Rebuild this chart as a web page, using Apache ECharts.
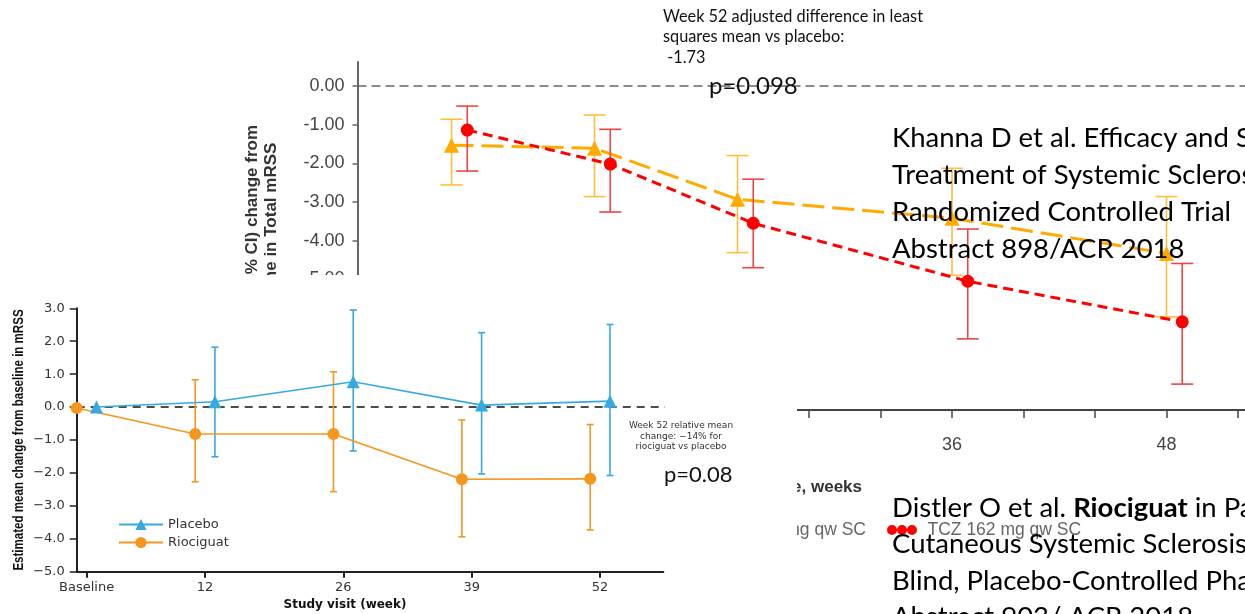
<!DOCTYPE html>
<html>
<head>
<meta charset="utf-8">
<script src="https://cdn.jsdelivr.net/npm/echarts@6/dist/echarts.min.js"></script>
<style>
  html, body { margin: 0; padding: 0; background: #fff; }
  #wrap { position: relative; width: 1245px; height: 614px; overflow: hidden; background: #fff; }
  #khanna { position: absolute; left: 0; top: 0; width: 1245px; height: 614px; }
  /* second slide picture pasted over the lower-left part of the first one */
  #distler { position: absolute; left: 0; top: 275px; width: 797px; height: 339px; background: #fff; }
</style>
</head>
<body>
<div id="wrap">
  <div id="khanna"></div>
  <div id="distler"></div>
</div>
<script>
// ---- Khanna (focuSSced): change in total mRSS, weeks
const khWeeks = [8, 16, 24, 36, 48]
const khPbo = [-1.53, -1.61, -2.93, -3.42, -4.33]
const khPboLow = [-2.56, -2.86, -4.31, -4.90, -5.97]
const khPboHigh = [-0.86, -0.75, -1.80, -2.13, -2.86]
const khTcz = [-1.14, -2.02, -3.55, -5.05, -6.10]
const khTczLow = [-2.20, -3.26, -4.70, -6.54, -7.71]
const khTczHigh = [-0.52, -1.12, -2.41, -3.70, -4.59]
const khYTicks = [0, -1, -2, -3, -4, -5, -6, -7, -8]
const khXTicks = [4, 8, 12, 16, 20, 24, 28, 32, 36, 40, 44, 48, 52]
const khXLabels = [12, 24, 36, 48]

// ---- Distler (RISE-SSc): estimated mean change from baseline in mRSS
const riWeeks = [0, 12, 26, 39, 52]
const riXLabels = ['Baseline', '12', '26', '39', '52']
const riPlacebo = [0.00, 0.16, 0.77, 0.06, 0.18]
const riPlaceboLow = [null, -1.51, -1.33, -2.03, -2.08]
const riPlaceboHigh = [null, 1.82, 2.95, 2.26, 2.51]
const riRio = [-0.03, -0.82, -0.82, -2.19, -2.18]
const riRioLow = [null, -2.27, -2.57, -3.94, -3.73]
const riRioHigh = [null, 0.83, 1.07, -0.39, -0.53]

const SANS = '"Liberation Sans", Arial, sans-serif'
const SLIDE = 'Lato, "Open Sans", sans-serif'
const VERD = '"DejaVu Sans", Verdana, sans-serif'

// vertical whiskers with caps
function errorBars(xs, lows, highs, color, capHalf, width, z) {
  return {
    type: 'custom',
    silent: true,
    z: z,
    data: xs.map((x, i) => [x, lows[i], highs[i]]).filter(d => d[1] != null),
    encode: {x: 0, y: [1, 2]},
    renderItem(params, api) {
      const lo = api.coord([api.value(0), api.value(1)])
      const hi = api.coord([api.value(0), api.value(2)])
      const s = {stroke: color, lineWidth: width}
      return {
        type: 'group',
        children: [
          {type: 'line', shape: {x1: lo[0], y1: lo[1], x2: hi[0], y2: hi[1]}, style: s},
          {type: 'line', shape: {x1: lo[0] - capHalf, y1: lo[1], x2: lo[0] + capHalf, y2: lo[1]}, style: s},
          {type: 'line', shape: {x1: hi[0] - capHalf, y1: hi[1], x2: hi[0] + capHalf, y2: hi[1]}, style: s}
        ]
      }
    }
  }
}

// ================= first picture =================
const khOrange = '#FFAA00'
const khRed = '#FF0000'
const tczShift = 0.88   // red points are dodged to the right
const dotsIcon = 'path://M0,5a5,5 0 1,0 10,0a5,5 0 1,0 -10,0M10,5a5,5 0 1,0 10,0a5,5 0 1,0 -10,0M20,5a5,5 0 1,0 10,0a5,5 0 1,0 -10,0'
const trisIcon = 'path://M0,10L5,0L10,10ZM10,10L15,0L20,10ZM20,10L25,0L30,10Z'

const kh = echarts.init(document.getElementById('khanna'))
kh.setOption({
  animation: false,
  textStyle: {fontFamily: SANS},
  grid: {left: 357.5, top: 62, width: 952, height: 348, containLabel: false, outerBoundsMode: 'none'},
  legend: [
    {
      data: [{name: 'TCZ 162 mg qw SC', icon: dotsIcon}],
      left: 887, top: 521, padding: 0,
      itemWidth: 31, itemHeight: 10, selectedMode: false,
      textStyle: {color: '#666', fontSize: 17.5, fontFamily: SANS, padding: [0, 0, 0, 5]}
    },
    {
      data: [{name: 'PBO 162 mg qw SC', icon: trisIcon}],
      right: 379, top: 521, padding: 0,
      itemWidth: 31, itemHeight: 10, selectedMode: false,
      textStyle: {color: '#666', fontSize: 17.5, fontFamily: SANS}
    }
  ],
  xAxis: {
    type: 'value', min: 2.74, max: 56,
    splitLine: {show: false},
    axisLine: {onZero: false, lineStyle: {color: '#444', width: 2}},
    axisTick: {customValues: khXTicks, length: 8, lineStyle: {color: '#444', width: 1.5}},
    axisLabel: {customValues: khXLabels, margin: 26, color: '#444', fontSize: 18}
  },
  yAxis: {
    type: 'value', min: -8.38, max: 0.62,
    splitLine: {show: false},
    axisLine: {show: true, onZero: false, lineStyle: {color: '#666', width: 2}},
    axisTick: {show: true, customValues: khYTicks, length: 5, lineStyle: {color: '#666', width: 1.5}},
    axisLabel: {customValues: khYTicks, margin: 13, color: '#444', fontSize: 18,
      formatter: v => (Math.abs(v) < 1e-9 ? 0 : v).toFixed(2)},
    name: 'Mean (95% CI) change from\nbaseline in Total mRSS',
    nameLocation: 'middle', nameGap: 77,
    nameTextStyle: {fontWeight: 'bold', fontSize: 17, lineHeight: 19, color: '#333'}
  },
  series: [
    {
      type: 'line', silent: true, symbol: 'none', z: 1,
      data: [[2.74, 0], [56, 0]],
      lineStyle: {color: '#666', width: 1.5, type: [9, 5]}
    },
    errorBars(khWeeks, khPboLow, khPboHigh, '#FFBE3C', 11, 1.6, 2),
    {
      name: 'PBO 162 mg qw SC', type: 'line', z: 3,
      data: khWeeks.map((w, i) => [w, khPbo[i]]),
      symbol: 'triangle', symbolSize: 15,
      itemStyle: {color: khOrange},
      lineStyle: {color: khOrange, width: 3, type: [22, 8]}
    },
    errorBars(khWeeks.map(w => w + tczShift), khTczLow, khTczHigh, '#EE4444', 11, 1.6, 4),
    {
      name: 'TCZ 162 mg qw SC', type: 'line', z: 5,
      data: khWeeks.map((w, i) => [w + tczShift, khTcz[i]]),
      symbol: 'circle', symbolSize: 13,
      itemStyle: {color: khRed},
      lineStyle: {color: khRed, width: 3, type: [10, 6]}
    }
  ],
  graphic: [
    {
      type: 'text', x: 663, y: 6, z: 100,
      style: {text: 'Week 52 adjusted difference in least\nsquares mean vs placebo:\n -1.73',
        font: '16.3px ' + SLIDE, fill: '#111', lineHeight: 20.5, align: 'left', verticalAlign: 'top'}
    },
    {
      type: 'text', x: 709, y: 86, z: 100,
      style: {text: 'p=0.098', font: '24px ' + SLIDE, fill: '#111', align: 'left', verticalAlign: 'middle'}
    },
    {
      type: 'text', x: 892, y: 120, z: 100,
      style: {
        text: 'Khanna D et al. Efficacy and Safety of Tocilizumab for the\nTreatment of Systemic Sclerosis: Results from a Phase 3\nRandomized Controlled Trial\nAbstract 898/ACR 2018',
        font: '27.5px ' + SLIDE, fill: '#000', lineHeight: 36.8, align: 'left', verticalAlign: 'top'}
    },
    {
      type: 'text', x: 862, y: 487, z: 100,
      style: {text: 'Time, weeks', font: 'bold 17px ' + SANS, fill: '#333', align: 'right', verticalAlign: 'middle'}
    },
    {
      type: 'text', x: 892, y: 489.5, z: 100,
      style: {
        text: 'Distler O et al. {b|Riociguat} in Patients with Early Diffuse\nCutaneous Systemic Sclerosis: a Randomized, Double-\nBlind, Placebo-Controlled Phase IIb Study\nAbstract 903/ ACR 2018',
        font: '27.5px ' + SLIDE, fill: '#000', lineHeight: 36.5, align: 'left', verticalAlign: 'top',
        rich: {b: {fontWeight: 'bold', fontSize: 27.5, fontFamily: SLIDE, fill: '#000', lineHeight: 36.5}}
      }
    }
  ]
})

// ================= second picture =================
const riBlue = '#36A9E1'
const riOrange = '#F5961E'
const dodge = 1.0
const minus = v => (v < 0 ? '\u2212' : '') + Math.abs(v).toFixed(1)

const ri = echarts.init(document.getElementById('distler'))
ri.setOption({
  animation: false,
  textStyle: {fontFamily: VERD},
  grid: {left: 76.7, top: 33.3, width: 586.6, height: 263.4, containLabel: false, outerBoundsMode: 'none'},
  legend: {
    data: ['Placebo', 'Riociguat'],
    orient: 'vertical', left: 118, top: 243, padding: 0,
    itemWidth: 44, itemHeight: 14, itemGap: 5, selectedMode: false,
    textStyle: {color: '#333', fontSize: 13, fontFamily: VERD}
  },
  xAxis: {
    type: 'value', min: -1, max: 58.4,
    splitLine: {show: false},
    axisLine: {onZero: false, lineStyle: {color: '#222', width: 2}},
    axisTick: {customValues: riWeeks, length: 6, lineStyle: {color: '#222', width: 2}},
    axisLabel: {customValues: riWeeks, margin: 9, color: '#333', fontSize: 13,
      formatter: v => riXLabels[riWeeks.indexOf(v)]}
  },
  yAxis: {
    type: 'value', min: -5, max: 3, interval: 1,
    splitLine: {show: false},
    axisLine: {show: true, onZero: false, lineStyle: {color: '#222', width: 2}},
    axisTick: {show: true, length: 7, lineStyle: {color: '#222', width: 1.5}},
    axisLabel: {margin: 12, color: '#333', fontSize: 13, formatter: minus}
  },
  series: [
    {
      type: 'line', silent: true, symbol: 'none', clip: false, z: 1,
      data: [[-1, 0], [59.6, 0]],
      lineStyle: {color: '#111', width: 1.5, type: [8, 6]}
    },
    errorBars(riWeeks.map(w => w - dodge), riRioLow, riRioHigh, riOrange, 3.5, 1.6, 2),
    errorBars(riWeeks.map(w => w + dodge), riPlaceboLow, riPlaceboHigh, riBlue, 3.5, 1.6, 2),
    {
      name: 'Riociguat', type: 'line', z: 3, clip: false,
      data: riWeeks.map((w, i) => [w - dodge, riRio[i]]),
      symbol: 'circle', symbolSize: 12,
      itemStyle: {color: riOrange},
      lineStyle: {color: riOrange, width: 1.6}
    },
    {
      name: 'Placebo', type: 'line', z: 4, clip: false,
      data: riWeeks.map((w, i) => [w + dodge, riPlacebo[i]]),
      symbol: 'triangle', symbolSize: 13,
      itemStyle: {color: riBlue},
      lineStyle: {color: riBlue, width: 1.6}
    }
  ],
  graphic: [
    {
      // condensed bold axis title (no narrow font installed, so squeeze it)
      type: 'text', x: 19, y: 165, rotation: Math.PI / 2, scaleX: 0.77, z: 100,
      style: {text: 'Estimated mean change from baseline in mRSS', font: 'bold 15px ' + SANS,
        fill: '#111', align: 'center', verticalAlign: 'middle'}
    },
    {
      type: 'text', x: 345, y: 330, z: 100,
      style: {text: 'Study visit (week)', font: 'bold 12px ' + VERD, fill: '#111', align: 'center', verticalAlign: 'middle'}
    },
    {
      type: 'text', x: 681, y: 145, z: 100,
      style: {text: 'Week 52 relative mean\nchange: \u221214% for\nriociguat vs placebo',
        font: '9px ' + VERD, fill: '#333', lineHeight: 10.8, align: 'center', verticalAlign: 'top'}
    },
    {
      type: 'text', x: 664, y: 200, z: 100,
      style: {text: 'p=0.08', font: '22px ' + SLIDE, fill: '#111', align: 'left', verticalAlign: 'middle'}
    }
  ]
})
</script>
</body>
</html>
